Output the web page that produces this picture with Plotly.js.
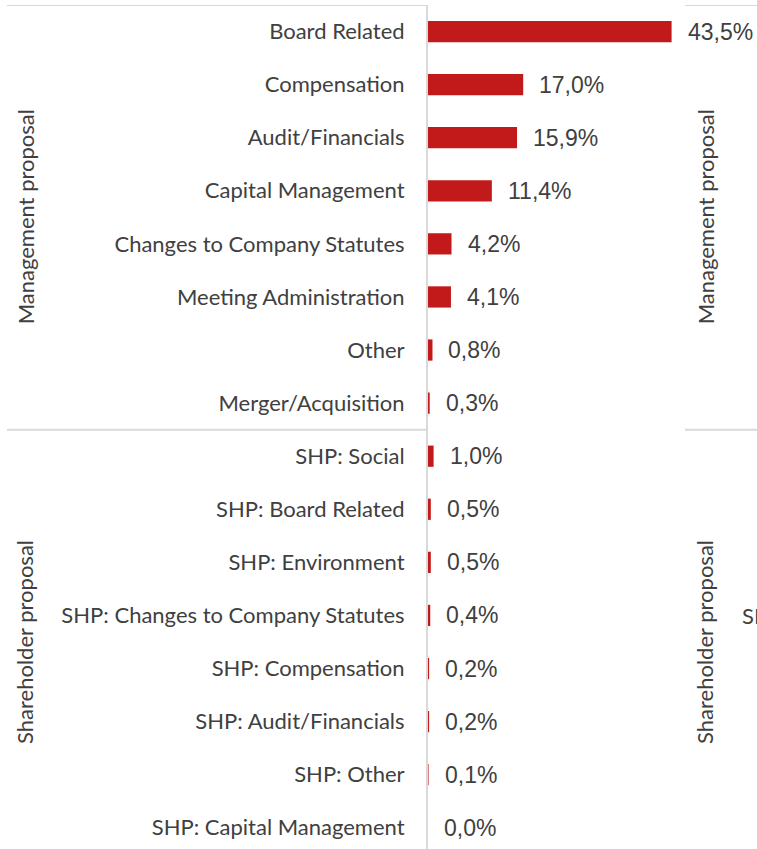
<!DOCTYPE html>
<html>
<head>
<meta charset="utf-8">
<script src="https://cdn.plot.ly/plotly-3.0.1.min.js"></script>
<style>
  html, body { margin: 0; padding: 0; overflow: hidden; background: #fff; }
  #chart { width: 757px; height: 849px; }
</style>
</head>
<body>
<div id="chart"></div>
<script>
// ---- data ----
const categories = [
  "Board Related",
  "Compensation",
  "Audit/Financials",
  "Capital Management",
  "Changes to Company Statutes",
  "Meeting Administration",
  "Other",
  "Merger/Acquisition",
  "SHP: Social",
  "SHP: Board Related",
  "SHP: Environment",
  "SHP: Changes to Company Statutes",
  "SHP: Compensation",
  "SHP: Audit/Financials",
  "SHP: Other",
  "SHP: Capital Management"
];
const shares = [43.5, 17.0, 15.9, 11.4, 4.2, 4.1, 0.8, 0.3, 1.0, 0.5, 0.5, 0.4, 0.2, 0.2, 0.1, 0.0];
const valueLabels = ["43,5%", "17,0%", "15,9%", "11,4%", "4,2%", "4,1%", "0,8%", "0,3%",
                     "1,0%", "0,5%", "0,5%", "0,4%", "0,2%", "0,2%", "0,1%", "0,0%"];
const groups = ["Management proposal", "Shareholder proposal"];
const groupCenters = [3.5, 11.5];
const groupBoundaries = [-0.5, 7.5];

// ---- layout helpers ----
const W = 757, H = 849;
const ML = 428, MR = 0, MT = 5, MB = 0;
const plotW = W - ML - MR;
const px = v => (v - ML) / plotW; // pixel x -> paper x

const textColor = "#404040";
const gridGrey = "#D9D9D9";
const catFont = { family: "Lato, 'Open Sans', sans-serif", size: 22, color: textColor };
const valFont = { family: "'Liberation Sans', Arial, sans-serif", size: 23, color: textColor };

const trace = {
  type: "bar",
  orientation: "h",
  y: categories,
  x: shares,
  width: 0.4,
  marker: { color: "#C21A1A" },
  hoverinfo: "skip"
};

const annotations = [];
categories.forEach((c, i) => {
  annotations.push({
    x: shares[i], y: c, xref: "x", yref: "y",
    text: valueLabels[i], showarrow: false,
    xanchor: "left", yanchor: "middle", xshift: 14,
    font: valFont
  });
});
groups.forEach((g, i) => {
  annotations.push({
    x: px(25), y: groupCenters[i], xref: "paper", yref: "y",
    text: g, showarrow: false, textangle: -90,
    xanchor: "center", yanchor: "middle", font: catFont
  });
  annotations.push({
    x: px(705), y: groupCenters[i], xref: "paper", yref: "y",
    text: g, showarrow: false, textangle: -90,
    xanchor: "center", yanchor: "middle", font: catFont
  });
});
// truncated label of the neighbouring panel (cut by the picture edge, as in the reference)
annotations.push({
  x: px(740), y: 11, xref: "paper", yref: "y",
  text: categories[11], showarrow: false,
  xanchor: "left", yanchor: "middle", font: catFont
});

const shapes = [];
groupBoundaries.forEach(b => {
  shapes.push({ type: "line", xref: "paper", yref: "y",
    x0: px(7), x1: px(427), y0: b, y1: b,
    line: { color: gridGrey, width: 2 } });
  shapes.push({ type: "line", xref: "paper", yref: "y",
    x0: px(685), x1: px(757), y0: b, y1: b,
    line: { color: gridGrey, width: 2 } });
});

const layout = {
  width: W, height: H,
  margin: { l: ML, r: MR, t: MT, b: MB, pad: 0 },
  paper_bgcolor: "#ffffff",
  plot_bgcolor: "#ffffff",
  showlegend: false,
  bargap: 0.6,
  xaxis: {
    range: [0, plotW / 5.6],
    showgrid: false, zeroline: false, showline: false,
    showticklabels: false, ticks: "", fixedrange: true
  },
  yaxis: {
    type: "category",
    categoryorder: "array",
    categoryarray: categories,
    range: [15.4, -0.5],
    showgrid: false, zeroline: false,
    showline: true, linecolor: gridGrey, linewidth: 2,
    ticks: "", ticklabelstandoff: 17,
    tickfont: catFont,
    fixedrange: true
  },
  annotations: annotations,
  shapes: shapes
};

Plotly.newPlot("chart", [trace], layout, { displayModeBar: false, staticPlot: true });
</script>
</body>
</html>
